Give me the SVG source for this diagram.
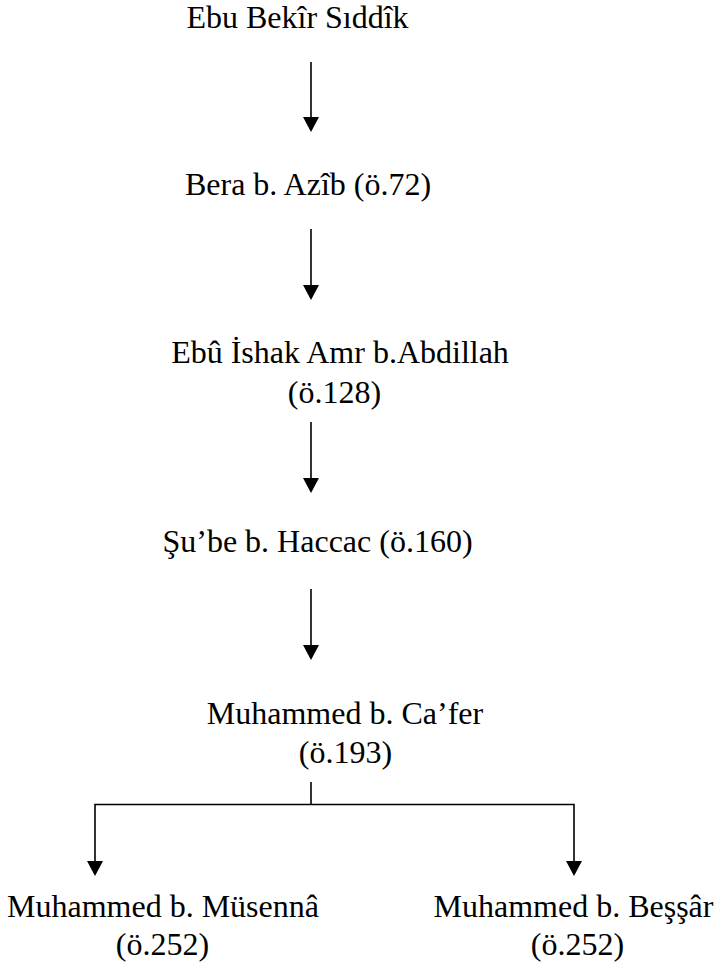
<svg xmlns="http://www.w3.org/2000/svg" width="717" height="967" viewBox="0 0 717 967">
<style>
  text { font-family: "Liberation Serif", "Times New Roman", serif; font-size: 32px; fill: #000; text-anchor: middle; }
  .ln { stroke: #000; stroke-width: 1.6; fill: none; }
  .ah { fill: #000; stroke: none; }
</style>
<rect width="717" height="967" fill="#fff"/>
<g id="n1"><text x="297.5" y="28">Ebu Bekîr Sıddîk</text></g>
<g id="n2"><text x="308" y="195">Bera b. Azîb (ö.72)</text></g>
<g id="n3"><text x="340" y="363">Ebû İshak Amr b.Abdillah</text><text x="334.5" y="403">(ö.128)</text></g>
<g id="n4"><text x="317.5" y="552">Şu’be b. Haccac (ö.160)</text></g>
<g id="n5"><text x="345" y="724">Muhammed b. Ca’fer</text><text x="345.5" y="763">(ö.193)</text></g>
<g id="n6"><text x="163" y="917">Muhammed b. Müsennâ</text><text x="162.5" y="955">(ö.252)</text></g>
<g id="n7"><text x="573.5" y="917">Muhammed b. Beşşâr</text><text x="577.5" y="955">(ö.252)</text></g>
<g id="connectors">
  <line class="ln" x1="311" y1="62" x2="311" y2="120"/>
  <polygon class="ah" points="303,117 319,117 311,132"/>
  <line class="ln" x1="311" y1="229" x2="311" y2="288"/>
  <polygon class="ah" points="303,285 319,285 311,300"/>
  <line class="ln" x1="311" y1="422" x2="311" y2="480"/>
  <polygon class="ah" points="303,478 319,478 311,493"/>
  <line class="ln" x1="311" y1="589" x2="311" y2="648"/>
  <polygon class="ah" points="303,645 319,645 311,660"/>
  <polyline class="ln" points="311,782 311,804.5"/>
  <polyline class="ln" points="95,864 95,804.5 574,804.5 574,864"/>
  <polygon class="ah" points="87,861 103,861 95,876"/>
  <polygon class="ah" points="566,861 582,861 574,876"/>
</g>
</svg>
